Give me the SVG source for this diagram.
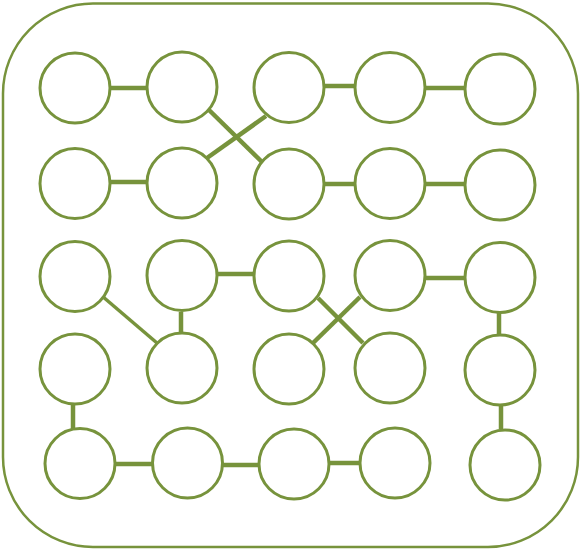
<svg xmlns="http://www.w3.org/2000/svg" width="583" height="551" viewBox="0 0 583 551">
<style>
.frame{fill:#fff;stroke:#77933c;stroke-width:2.5}
.n{fill:#fff;stroke:#77933c;stroke-width:3;r:35px}
.e{stroke:#77933c;stroke-width:4.5;fill:none}
.t{stroke:#77933c;stroke-width:3.5;fill:none}
</style>
<rect x="0" y="0" width="583" height="551" fill="#fff"/>
<rect class="frame" x="3" y="3.5" width="575" height="543.5" rx="90" ry="90"/>
<g id="connectors">
<line class="e" x1="111" y1="88" x2="146" y2="88"/>
<line class="e" x1="324" y1="86" x2="354" y2="86"/>
<line class="e" x1="423" y1="88" x2="464" y2="88"/>
<line class="e" x1="209" y1="110" x2="262" y2="162"/>
<line class="e" x1="266" y1="116" x2="207" y2="158"/>
<line class="e" x1="111" y1="182" x2="146" y2="182"/>
<line class="e" x1="322" y1="184" x2="354" y2="184"/>
<line class="e" x1="423" y1="184" x2="464" y2="184"/>
<line class="e" x1="218" y1="274" x2="253" y2="274"/>
<line class="e" x1="423" y1="278" x2="464" y2="278"/>
<line class="t" x1="102" y1="296" x2="157" y2="343"/>
<line class="e" x1="181" y1="312" x2="181" y2="332"/>
<line class="e" x1="318" y1="298" x2="363" y2="343"/>
<line class="e" x1="360" y1="297" x2="313" y2="343"/>
<line class="e" x1="499" y1="313" x2="499" y2="334"/>
<line class="e" x1="73" y1="402" x2="73" y2="429"/>
<line class="e" x1="501" y1="406" x2="501" y2="429"/>
<line class="e" x1="114" y1="464" x2="156" y2="464"/>
<line class="e" x1="220" y1="465" x2="258" y2="465"/>
<line class="e" x1="329" y1="463" x2="359" y2="463"/>
</g>
<g id="n11"><circle class="n" cx="75" cy="88" r="35"/></g>
<g id="n12"><circle class="n" cx="182" cy="87" r="35"/></g>
<g id="n13"><circle class="n" cx="289" cy="87.5" r="35"/></g>
<g id="n14"><circle class="n" cx="390" cy="87.5" r="35"/></g>
<g id="n15"><circle class="n" cx="500" cy="89" r="35"/></g>
<g id="n21"><circle class="n" cx="75" cy="183.5" r="35"/></g>
<g id="n22"><circle class="n" cx="182" cy="183" r="35"/></g>
<g id="n23"><circle class="n" cx="289" cy="184" r="35"/></g>
<g id="n24"><circle class="n" cx="390" cy="183.5" r="35"/></g>
<g id="n25"><circle class="n" cx="500" cy="185" r="35"/></g>
<g id="n31"><circle class="n" cx="75" cy="276.5" r="35"/></g>
<g id="n32"><circle class="n" cx="182" cy="275.5" r="35"/></g>
<g id="n33"><circle class="n" cx="289" cy="276" r="35"/></g>
<g id="n34"><circle class="n" cx="390" cy="275.5" r="35"/></g>
<g id="n35"><circle class="n" cx="500" cy="277.5" r="35"/></g>
<g id="n41"><circle class="n" cx="75" cy="369" r="35"/></g>
<g id="n42"><circle class="n" cx="182" cy="368" r="35"/></g>
<g id="n43"><circle class="n" cx="289" cy="369" r="35"/></g>
<g id="n44"><circle class="n" cx="390" cy="368" r="35"/></g>
<g id="n45"><circle class="n" cx="500" cy="370" r="35"/></g>
<g id="n51"><circle class="n" cx="80" cy="463.5" r="35"/></g>
<g id="n52"><circle class="n" cx="187.5" cy="463" r="35"/></g>
<g id="n53"><circle class="n" cx="294" cy="464" r="35"/></g>
<g id="n54"><circle class="n" cx="395" cy="463" r="35"/></g>
<g id="n55"><circle class="n" cx="505" cy="465" r="35"/></g>
</svg>
